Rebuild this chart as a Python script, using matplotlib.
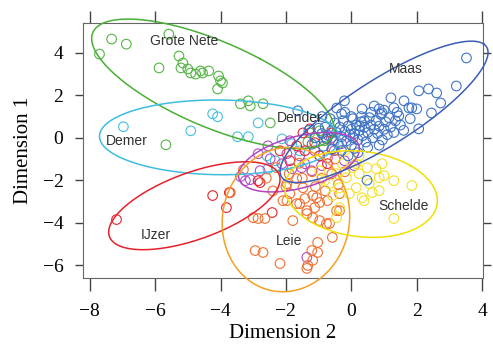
import numpy as np
import matplotlib
matplotlib.use("Agg")
import matplotlib.pyplot as plt

# river basins: point coordinates (Dimension 2, Dimension 1)
grote_nete_x = [-7.33, -6.88, -7.70, -5.58, -5.88, -5.27, -5.15, -5.21, -5.0, -4.91, -4.76, -4.61, -4.55,
                -4.36, -4.06, -4.0, -3.94, -4.09, -3.39, -3.15, -3.09, -2.7, -2.48, -5.67,
                -1.27, -1.12, -0.97, -1.33, -0.82]
grote_nete_y = [4.65, 4.41, 3.94, 4.88, 3.29, 3.85, 3.52, 3.29, 3.24, 3.05, 3.0, 3.15, 3.05,
                3.15, 2.91, 2.68, 2.58, 2.3, 1.6, 1.74, 1.5, 1.6, 0.7, -0.33,
                0.23, 0.0, 0.33, -0.19, -0.14]

demer_x = [-6.97, -4.91, -4.24, -4.09, -3.48, -3.15, -2.85, -2.58, -2.12, -1.82, -2.33, -1.58, -0.97, -2.55]
demer_y = [0.52, 0.33, 1.13, 0.99, 0.05, 0.05, 0.7, -0.85, -0.05, -0.28, -1.08, -0.61, -0.85, -1.46]

dender_x = [-3.24, -3.39, -3.09, -2.85, -2.55, -2.12, -1.82, -1.52, -1.42, -1.58, -1.12, -0.73, -0.91,
            -0.3, -0.61, -2.48, -1.97, -1.36, -0.52, -0.21, 0.09, -1.88, -1.21, -2.79]
dender_y = [-2.02, -1.83, -1.97, -0.75, -0.38, -1.22, -1.46, -1.41, -1.22, -0.85, -0.61, -0.94, -1.31,
            -0.28, 0.0, -0.99, -0.75, -5.63, -0.61, -1.08, -1.31, -0.14, -1.55, -1.55]

ijzer_x = [-7.18, -4.24, -3.73, -3.82, -2.42, -2.79, -2.85, -1.48, -1.27, -0.76, -0.58, -1.67, -0.97,
           -0.61, -1.42, -0.73, -1.88, -1.12, -2.18]
ijzer_y = [-3.85, -2.72, -2.58, -3.29, -3.52, -2.11, -2.02, 0.23, 0.42, -0.05, -0.52, -0.38, -0.85,
           0.23, -0.61, -1.22, -1.08, -0.23, -0.61]

leie_x = [-3.0, -2.64, -2.94, -2.7, -2.18, -1.79, -1.36, -1.12, -0.97, -0.67, -0.58, -1.03, -1.21, -1.18,
          -1.33, -1.36, -1.03, -1.97, -1.67, -1.88, -1.42, -1.18, -0.97, -0.73, -0.36, -3.7, -2.85, -2.09,
          -1.58, -1.36, -1.18, -0.76, -1.97, -1.48, -1.06, -1.67, -0.36, -0.45,
          -2.3, -1.9, -1.5, -1.2, -0.9, -0.6, -0.4, -2.6, -2.0, -1.1, -0.8, -0.2, -1.6, -0.5, -2.4, -3.3]
leie_y = [-3.76, -3.8, -5.31, -5.4, -5.92, -3.9, -3.57, -3.29, -3.9, -4.04, -4.69, -4.93, -5.31, -5.77,
          -6.01, -6.15, -5.4, -2.96, -3.1, -2.63, -2.86, -2.72, -3.05, -2.96, -3.43, -2.58, -3.8, -2.96,
          -3.1, -3.43, -3.76, -4.04, -2.16, -2.35, -2.82, -1.92, -2.63, -3.43,
          -1.4, -1.7, -1.9, -1.6, -1.9, -1.7, -2.2, -1.9, -2.3, -2.3, -2.5, -1.6, -1.2, -1.0, -2.5, -1.5]

schelde_x = [1.3, 1.85, 1.3, 0.48, 0.76, 0.94, 0.24, 0.15, 0.33, 0.64, 0.85, 0.03, -0.15, -0.36, -0.06,
             -0.45, 0.15, -0.67, 0.55, -0.27, 0.85, 0.39, -0.36, -0.45, -0.82, -0.97, -0.58, 0.24, -0.21, 1.0]
schelde_y = [-2.02, -2.25, -3.8, -1.41, -1.46, -1.22, -1.69, -2.35, -2.82, -2.58, -2.49, -1.41, -1.88,
             -2.35, -2.63, -1.69, -1.22, -2.16, -2.16, -1.22, -1.88, -2.96, -3.29, -3.76, -2.02, -1.55,
             -2.72, -0.85, -0.61, -1.78]

maas_x = [3.52, 3.21, 2.73, 2.36, 2.61, 2.06, 2.06, 1.76, 2.0, 1.45, 1.61, 1.3, 0.85, 0.33, -0.21, -1.64,
          -0.3, 2.45, 1.21, 1.85, 0.94, 0.48,
          -0.9, -0.8, -0.7, -0.6, -0.55, -0.5, -0.45, -0.4, -0.35, -0.3, -0.25, -0.2, -0.15, -0.1, -0.05,
          0.0, 0.0, 0.05, 0.1, 0.15, 0.2, 0.25, 0.3, 0.35, 0.4, 0.45, 0.5, 0.55, 0.6, 0.65, 0.7, 0.75,
          0.8, 0.85, 0.9, 0.95, 1.0, 1.05, 1.1, 1.15, 1.2, 1.3, 1.35, 1.4, 1.5, 1.6, -1.1, -1.0, -1.2,
          -0.85, -0.65, -0.3, 0.1, -0.6, 0.3, 0.0, -0.2, 0.6, -0.9, 1.8, -1.3, 0.2, 0.5, -0.1, 1.0, 0.7,
          -0.45, 0.05, 0.4, 0.85, -0.75, 0.25]
maas_y = [3.76, 2.44, 1.64, 2.3, 2.11, 2.21, 0.42, 1.41, 1.36, 1.03, 1.74, 1.41, 1.36, 1.36, 1.74, 1.27,
          1.13, 1.17, 1.88, 1.41, 1.17, -2.0,
          0.2, 0.5, 0.1, 0.35, -0.1, 0.7, 0.25, -0.3, 0.5, 0.05, 0.8, 0.3, -0.15, 0.55, 0.15,
          0.4, -0.35, 0.9, 0.2, 0.6, -0.1, 0.35, 0.75, 0.1, 0.5, -0.2, 0.25, 0.95, 0.6, 0.0, 0.4, 0.8,
          0.2, 0.55, 1.1, -0.1, 0.4, 0.75, 0.15, 0.95, 0.5, 0.25, 0.8, 1.2, 0.6, 0.35, 0.0, 0.45, -0.3,
          -0.4, 0.9, -0.6, -0.5, -0.55, 1.0, 1.0, 1.2, 1.2, 1.0, 0.9, 0.35, -0.7, -0.45, -0.85, 1.3, 1.5,
          1.4, 0.0, 0.8, -0.35, -0.05, 0.55]

# ellipses: centre, half-range in x and y, correlation
names = ["Grote Nete", "Demer", "Dender", "IJzer", "Leie", "Schelde", "Maas"]
ell_cx = [-4.23, -4.03, -1.6, -4.8, -2.0, 0.3, 1.0]
ell_cy = [2.54, 0.02, -1.15, -3.2, -3.85, -2.65, 1.22]
ell_sx = [3.71, 3.67, 1.85, 2.62, 1.95, 2.33, 3.18]
ell_sy = [3.05, 1.76, 1.4, 2.07, 3.4, 2.04, 3.33]
ell_r = [-0.7, -0.03, 0.45, 0.6, 0.05, -0.15, 0.84]

label_x = [-5.12, -6.88, -1.58, -5.97, -1.91, 1.6, 1.67]
label_y = [4.55, -0.14, 0.94, -4.6, -4.84, -3.19, 3.24]

pt_colors = ["#55b545", "#45c0e0", "#b04ec4", "#e8252d", "#f07232", "#f2e22a", "#3f74c6"]
ell_colors = ["#4aae35", "#3fbde0", "#b046c4", "#e8202a", "#f5a023", "#f0e000", "#3a5db8"]

points = {
    "Grote Nete": (grote_nete_x, grote_nete_y),
    "Demer": (demer_x, demer_y),
    "Dender": (dender_x, dender_y),
    "IJzer": (ijzer_x, ijzer_y),
    "Leie": (leie_x, leie_y),
    "Schelde": (schelde_x, schelde_y),
    "Maas": (maas_x, maas_y),
}

fig = plt.figure(figsize=(4.93, 3.47), dpi=100)
ax = fig.add_axes([0.168, 0.199, 0.812, 0.735])

for i, n in enumerate(names):
    px, py = points[n]
    ax.scatter(px, py, s=48, facecolors="none", edgecolors=pt_colors[i], linewidths=0.8, zorder=2)

t = np.linspace(0, 2 * np.pi, 300)
for i, n in enumerate(names):
    d = np.arccos(ell_r[i])
    ex = ell_cx[i] + ell_sx[i] * np.cos(t + d / 2)
    ey = ell_cy[i] + ell_sy[i] * np.cos(t - d / 2)
    ax.plot(ex, ey, color=ell_colors[i], lw=1.1, clip_on=False, zorder=3)
    ax.text(label_x[i], label_y[i], n, ha="center", va="center", fontsize=10,
            family="Liberation Sans", color="#333333", zorder=4)

ax.set_xlim(-8.21, 4.03)
ax.set_ylim(-6.6, 5.41)
ax.set_xticks([-8, -6, -4, -2, 0, 2, 4])
ax.set_yticks([-6, -4, -2, 0, 2, 4])
ax.tick_params(direction="out", top=True, right=True, width=1, color="#444444", labelsize=14)
ax.tick_params(axis="x", length=9, pad=9)
ax.tick_params(axis="y", length=6, pad=8)
for lab in ax.get_xticklabels() + ax.get_yticklabels():
    lab.set_family("Liberation Serif")
for s in ax.spines.values():
    s.set_color("#666666")
ax.set_xlabel("Dimension 2", family="Liberation Serif", fontsize=15, labelpad=3)
ax.set_ylabel("Dimension 1", family="Liberation Serif", fontsize=15, labelpad=7)

fig.savefig("out.png", dpi=100)
